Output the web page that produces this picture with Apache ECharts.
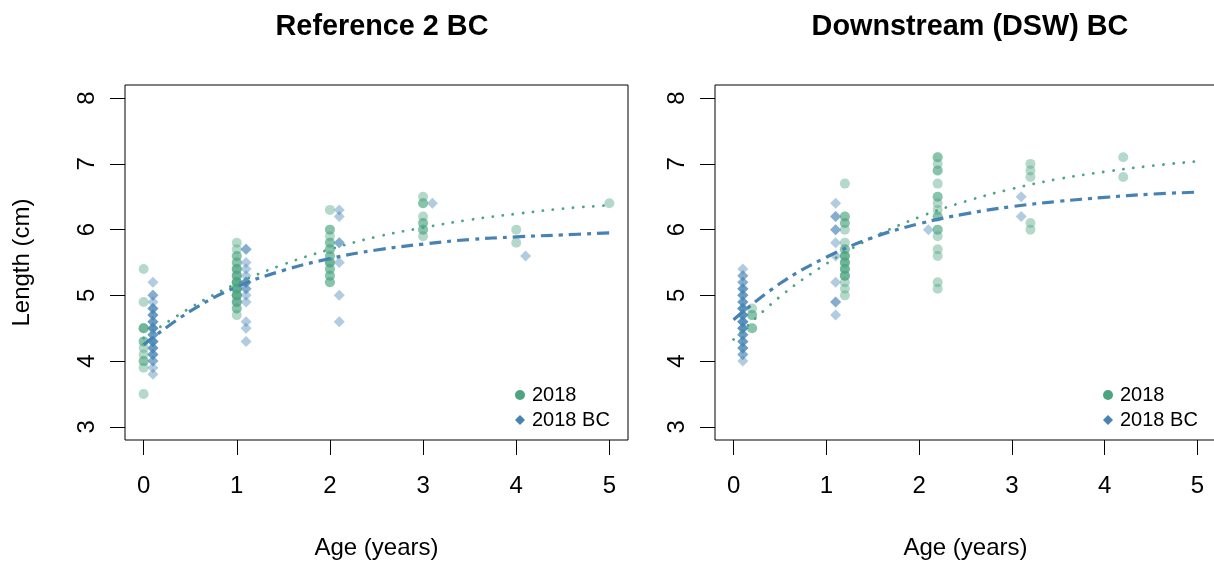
<!DOCTYPE html>
<html>
<head>
<meta charset="utf-8">
<script src="https://cdn.jsdelivr.net/npm/echarts@6/dist/echarts.min.js"></script>
<style>
html,body{margin:0;padding:0;background:#fff;}
#chart{width:1214px;height:563px;}
</style>
</head>
<body>
<div id="chart"></div>
<script>
// ---------- Data ----------
const panelTitles = ["Reference 2 BC", "Downstream (DSW) BC"];
const xTicks = [0, 1, 2, 3, 4, 5];
const yTicks = [3, 4, 5, 6, 7, 8];
const legendNames = ["2018", "2018 BC"];

// Reference 2 BC — 2018 (circles): ages and lengths per age group
const ref2018Ages = [0, 1, 2, 3, 4, 5];
const ref2018Len = [
  [5.4, 4.9, 4.5, 4.5, 4.5, 4.3, 4.3, 4.2, 4.1, 4.0, 4.0, 3.9, 3.5],
  [5.8, 5.7, 5.6, 5.6, 5.5, 5.5, 5.4, 5.4, 5.4, 5.3, 5.3, 5.3, 5.2, 5.2, 5.2, 5.2, 5.1, 5.1, 5.1, 5.1, 5.0, 5.0, 5.0, 5.0, 4.9, 4.9, 4.9, 4.8, 4.8, 4.7],
  [6.3, 6.0, 6.0, 5.9, 5.8, 5.8, 5.7, 5.7, 5.6, 5.6, 5.5, 5.5, 5.5, 5.4, 5.4, 5.3, 5.3, 5.2, 5.2],
  [6.5, 6.4, 6.4, 6.2, 6.1, 6.1, 6.0, 6.0, 5.9],
  [6.0, 5.8],
  [6.4]
];
// Reference 2 BC — 2018 BC (diamonds)
const ref2018BCAges = [0.1, 1.1, 2.1, 3.1, 4.1];
const ref2018BCLen = [
  [5.2, 5.0, 5.0, 4.9, 4.8, 4.8, 4.8, 4.7, 4.7, 4.7, 4.6, 4.6, 4.6, 4.5, 4.5, 4.5, 4.5, 4.4, 4.4, 4.4, 4.3, 4.3, 4.3, 4.3, 4.2, 4.2, 4.2, 4.1, 4.1, 4.1, 4.0, 4.0, 3.9, 3.8],
  [5.7, 5.7, 5.5, 5.4, 5.3, 5.2, 5.2, 5.2, 5.1, 5.1, 5.0, 4.9, 4.6, 4.5, 4.3],
  [6.3, 6.2, 5.8, 5.8, 5.5, 5.0, 4.6],
  [6.4],
  [5.6]
];

// Downstream (DSW) BC — 2018 (circles)
const dsw2018Ages = [0.2, 1.2, 2.2, 3.2, 4.2];
const dsw2018Len = [
  [4.8, 4.7, 4.7, 4.5, 4.5],
  [6.7, 6.2, 6.2, 6.1, 6.1, 6.0, 5.8, 5.7, 5.7, 5.6, 5.6, 5.6, 5.5, 5.5, 5.5, 5.4, 5.4, 5.4, 5.3, 5.3, 5.3, 5.2, 5.1, 5.0],
  [7.1, 7.1, 7.0, 6.9, 6.9, 6.7, 6.5, 6.5, 6.4, 6.3, 6.2, 6.2, 6.0, 6.0, 5.9, 5.7, 5.6, 5.2, 5.1],
  [7.0, 6.9, 6.8, 6.1, 6.0],
  [7.1, 6.8]
];
// Downstream (DSW) BC — 2018 BC (diamonds)
const dsw2018BCAges = [0.1, 1.1, 2.1, 3.1];
const dsw2018BCLen = [
  [5.4, 5.3, 5.3, 5.2, 5.2, 5.1, 5.1, 5.1, 5.0, 5.0, 5.0, 4.9, 4.9, 4.9, 4.8, 4.8, 4.8, 4.8, 4.7, 4.7, 4.7, 4.7, 4.6, 4.6, 4.6, 4.6, 4.5, 4.5, 4.5, 4.5, 4.4, 4.4, 4.4, 4.3, 4.3, 4.3, 4.2, 4.2, 4.2, 4.1, 4.1, 4.0],
  [6.4, 6.2, 6.2, 6.0, 6.0, 5.8, 5.6, 5.2, 4.9, 4.9, 4.7],
  [6.0],
  [6.5, 6.2]
];

// Fitted growth curves at these ages
const curveAges = [0, 0.5, 1, 1.5, 2, 2.5, 3, 3.5, 4, 4.5, 5];
const refFit2018   = [4.35, 4.81, 5.18, 5.47, 5.70, 5.89, 6.03, 6.15, 6.24, 6.32, 6.37];
const refFit2018BC = [4.25, 4.76, 5.13, 5.38, 5.56, 5.69, 5.78, 5.85, 5.89, 5.92, 5.95];
const dswFit2018   = [4.33, 4.98, 5.48, 5.88, 6.19, 6.43, 6.62, 6.77, 6.88, 6.97, 7.04];
const dswFit2018BC = [4.63, 5.18, 5.58, 5.88, 6.09, 6.24, 6.35, 6.43, 6.49, 6.54, 6.57];

// ---------- Styling ----------
const GREEN = "#4CA580";
const BLUE = "#4682B4";
const FONT = "Liberation Sans, Arial, Helvetica, sans-serif";

function flatten(ages, lens) {
  const out = [];
  ages.forEach((a, i) => lens[i].forEach(v => out.push([a, v])));
  return out;
}
function pairs(xs, ys) { return xs.map((x, i) => [x, ys[i]]); }

const grids = [
  { left: 125, top: 85, width: 503, height: 355 },
  { left: 715, top: 85, width: 501, height: 355 }
];

function xAxisFor(i) {
  return {
    type: "value", gridIndex: i, min: -0.2, max: 5.2, position: "bottom",
    axisLine: { show: false, onZero: false },
    splitLine: { show: false },
    axisTick: { show: true, length: 15, customValues: xTicks, lineStyle: { color: "#000", width: 1 } },
    axisLabel: { customValues: xTicks, fontSize: 24, color: "#000", fontFamily: FONT, margin: 34 },
    name: "Age (years)", nameLocation: "middle", nameGap: 96,
    nameTextStyle: { fontSize: 24, color: "#000", fontFamily: FONT }
  };
}
function yAxisFor(i) {
  const ax = {
    type: "value", gridIndex: i, min: 2.8, max: 8.2, position: "left",
    axisLine: { show: false, onZero: false },
    splitLine: { show: false },
    axisTick: { show: true, length: 15, customValues: yTicks, lineStyle: { color: "#000", width: 1 } },
    axisLabel: { customValues: yTicks, fontSize: 24, color: "#000", fontFamily: FONT, rotate: 90, margin: 26 }
  };
  if (i === 0) {
    ax.name = "Length (cm)";
    ax.nameLocation = "middle";
    ax.nameGap = 91;
    ax.nameTextStyle = { fontSize: 24, color: "#000", fontFamily: FONT };
  }
  return ax;
}

function scatter(name, data, i, symbol, size, color) {
  return {
    type: "scatter", name: name, xAxisIndex: i, yAxisIndex: i,
    data: data, symbol: symbol, symbolSize: size,
    itemStyle: { color: color, opacity: 0.42 },
    emphasis: { disabled: true }, z: 2
  };
}
function fitLine(data, i, kind) {
  const green = kind === "vb";
  return {
    type: "line", name: green ? "fit2018_" + i : "fitBC_" + i,
    xAxisIndex: i, yAxisIndex: i, data: data,
    smooth: 0.4, showSymbol: false, symbol: "none",
    lineStyle: green
      ? { color: GREEN, width: 2.8, type: [0.1, 10], cap: "round" }
      : { color: BLUE, width: 3.2, type: [12, 6, 4, 6], cap: "butt" },
    emphasis: { disabled: true }, z: 3
  };
}

const legendItems = [
  { name: "2018", icon: "circle", itemStyle: { color: GREEN, opacity: 1 } },
  { name: "2018 BC", icon: "diamond", itemStyle: { color: BLUE, opacity: 1 } }
];
function legendAt(left, top) {
  return {
    data: legendItems, left: left, top: top, orient: "vertical",
    itemWidth: 10, itemHeight: 10, itemGap: 5, selectedMode: false,
    textStyle: { fontSize: 20, color: "#000", fontFamily: FONT, padding: [0, 0, 0, 2] }
  };
}

const option = {
  animation: false,
  backgroundColor: "#fff",
  title: [
    { text: panelTitles[0], left: 377, top: 8, textAlign: "center",
      textStyle: { fontSize: 28.8, fontWeight: "bold", color: "#000", fontFamily: FONT } },
    { text: panelTitles[1], left: 965, top: 8, textAlign: "center",
      textStyle: { fontSize: 28.8, fontWeight: "bold", color: "#000", fontFamily: FONT } }
  ],
  grid: grids.map(g => Object.assign({ show: true, borderColor: "#000", borderWidth: 1, backgroundColor: "transparent", containLabel: false, outerBoundsMode: "none" }, g)),
  xAxis: [xAxisFor(0), xAxisFor(1)],
  yAxis: [yAxisFor(0), yAxisFor(1)],
  legend: [legendAt(510, 380), legendAt(1098, 380)],
  series: [
    scatter("2018", flatten(ref2018Ages, ref2018Len), 0, "circle", 10, GREEN),
    scatter("2018 BC", flatten(ref2018BCAges, ref2018BCLen), 0, "diamond", 11, BLUE),
    fitLine(pairs(curveAges, refFit2018), 0, "vb"),
    fitLine(pairs(curveAges, refFit2018BC), 0, "bc"),
    scatter("2018", flatten(dsw2018Ages, dsw2018Len), 1, "circle", 10, GREEN),
    scatter("2018 BC", flatten(dsw2018BCAges, dsw2018BCLen), 1, "diamond", 11, BLUE),
    fitLine(pairs(curveAges, dswFit2018), 1, "vb"),
    fitLine(pairs(curveAges, dswFit2018BC), 1, "bc")
  ]
};

const chart = echarts.init(document.getElementById("chart"), null, { renderer: "canvas" });
chart.setOption(option);
</script>
</body>
</html>
